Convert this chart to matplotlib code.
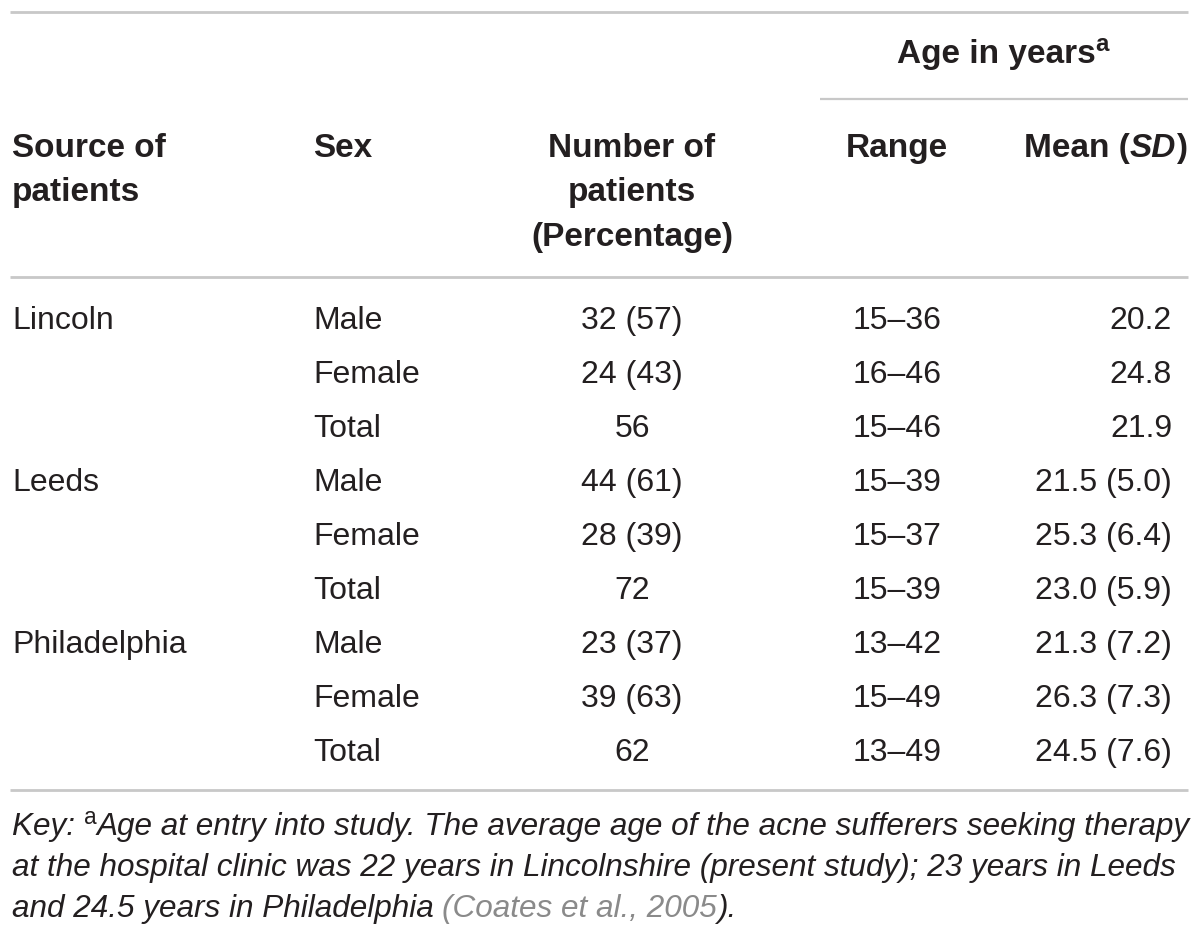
import matplotlib
matplotlib.use("Agg")
import matplotlib.pyplot as plt
from matplotlib import font_manager

# table content
sources = ["Lincoln", "Leeds", "Philadelphia"]
sexes = ["Male", "Female", "Total"]
n_patients = ["32 (57)", "24 (43)", "56",
              "44 (61)", "28 (39)", "72",
              "23 (37)", "39 (63)", "62"]
age_range = ["15–36", "16–46", "15–46",
             "15–39", "15–37", "15–39",
             "13–42", "15–49", "13–49"]
age_mean = ["20.2", "24.8", "21.9",
            "21.5 (5.0)", "25.3 (6.4)", "23.0 (5.9)",
            "21.3 (7.2)", "26.3 (7.3)", "24.5 (7.6)"]
footnote = [
    [("Key: ", {}), ("a", {"sup": True}),
     ("Age at entry into study. The average age of the acne sufferers seeking therapy", {})],
    [("at the hospital clinic was 22 years in Lincolnshire (present study); 23 years in Leeds", {})],
    [("and 24.5 years in Philadelphia ", {}), ("(Coates et al., 2005", {"color": "#8a8a8a"}),
     (").", {})],
]

TXT = "#231f20"
RULE = "#c8c8c8"
names = {f.name for f in font_manager.fontManager.ttflist}
BODY = "Liberation Sans"
NARROW = "Liberation Sans Narrow" if "Liberation Sans Narrow" in names else "Liberation Sans"

W, H = 1200, 939
fig = plt.figure(figsize=(W / 100, H / 100), dpi=100)
ax = fig.add_axes([0, 0, 1, 1])
ax.set_xlim(0, W)
ax.set_ylim(H, 0)
ax.axis("off")
renderer = fig.canvas.get_renderer()


def width_of(s, **kw):
    t = ax.text(0, 0, s, **kw)
    w = t.get_window_extent(renderer).width
    t.remove()
    return w


def run(x, y, parts, ha="left", base=None):
    """Draw a sequence of text pieces on one baseline."""
    base = base or {}
    items = []
    for s, opt in parts:
        kw = dict(base)
        kw.update({k: v for k, v in opt.items() if k != "sup"})
        dy = 0
        if opt.get("sup"):
            kw["fontsize"] = base["fontsize"] * 0.72
            kw["fontstyle"] = "normal"
            dy = -base["fontsize"] * 0.5
        items.append((s, kw, dy, width_of(s, **kw)))
    total = sum(i[3] for i in items)
    if ha == "center":
        x -= total / 2
    elif ha == "right":
        x -= total
    for s, kw, dy, w in items:
        ax.text(x, y + dy, s, va="baseline", ha="left", **kw)
        x += w


hdr = dict(fontsize=24, fontweight="bold", color=TXT, family=BODY)
body = dict(fontsize=23, color=TXT, family=BODY)

# rules
ax.plot([10, 1188], [12, 12], color=RULE, lw=2, solid_capstyle="butt")
ax.plot([820, 1188], [99, 99], color=RULE, lw=1.6, solid_capstyle="butt")
ax.plot([10, 1188], [277, 277], color=RULE, lw=2, solid_capstyle="butt")
ax.plot([10, 1188], [790, 790], color=RULE, lw=2, solid_capstyle="butt")

# header
run(1003, 63, [("Age in years", {}), ("a", {"sup": True})], ha="center", base=hdr)
run(12, 157, [("Source of", {})], base=hdr)
run(12, 201, [("patients", {})], base=hdr)
run(313, 157, [("Sex", {})], base=hdr)
run(632, 157, [("Number of", {})], ha="center", base=hdr)
run(632, 201, [("patients", {})], ha="center", base=hdr)
run(632, 246, [("(Percentage)", {})], ha="center", base=hdr)
run(897, 157, [("Range", {})], ha="center", base=hdr)
run(1187, 157, [("Mean (", {}), ("SD", {"fontstyle": "italic"}), (")", {})],
    ha="right", base=hdr)

# body rows
for i in range(9):
    yb = 329 + 54 * i
    if i % 3 == 0:
        run(12, yb, [(sources[i // 3], {})], base=body)
    run(313, yb, [(sexes[i % 3], {})], base=body)
    run(632, yb, [(n_patients[i], {})], ha="center", base=body)
    run(897, yb, [(age_range[i], {})], ha="center", base=body)
    run(1172, yb, [(age_mean[i], {})], ha="right", base=body)

# footnote, sized so the first line spans the table width
fn = dict(fontsize=20, fontstyle="italic", color=TXT, family=NARROW)
w0 = sum(width_of(s, **{**fn, **({"fontsize": 20 * 0.72} if o.get("sup") else {})})
         for s, o in footnote[0])
fn["fontsize"] = 20 * 1175 / w0
for k, line in enumerate(footnote):
    run(12, 835 + 41 * k, line, base=fn)

fig.savefig("out.png", dpi=100)
